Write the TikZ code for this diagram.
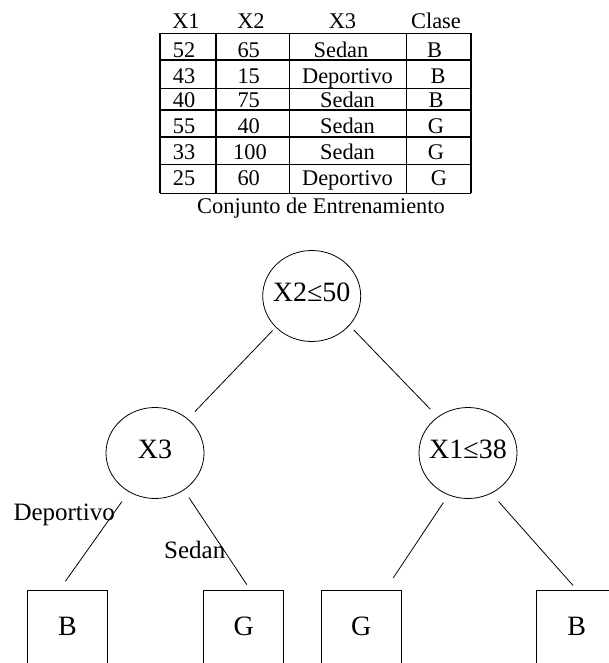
\documentclass[tikz,border=0pt]{standalone}
\usepackage{fontspec}
\setmainfont{Liberation Serif}
\usetikzlibrary{shapes.geometric}

\begin{document}
\begin{tikzpicture}[x=1pt, y=-1pt,
  tabtext/.style={font=\fontsize{22.4}{26}\selectfont, anchor=base, inner sep=0pt},
  rule/.style={line width=1.1pt},
  split/.style={ellipse, draw, line width=0.8pt, minimum width=98pt,
    minimum height=91pt, inner sep=0pt, inner xsep=-8pt,
    font=\fontsize{28}{32}\selectfont, text height=18.5pt, text depth=8pt},
  leaf/.style={draw, line width=0.8pt, minimum width=80pt, minimum height=90pt,
    inner sep=0pt, font=\fontsize{28}{32}\selectfont,
    text height=18.5pt, text depth=18.5pt},
  link/.style={line width=0.8pt},
  branch/.style={font=\fontsize{25}{30}\selectfont, anchor=base west, inner sep=0pt}
]
\useasboundingbox (0,0) rectangle (609,663);
\clip (0,0) rectangle (609,663);

% training table: ruled grid
\foreach \y in {33.3, 60, 88.3, 110, 137, 164.3, 193.3}
  \draw[rule] (160,\y) -- (471,\y);
\foreach \x in {160, 216, 289.3, 406.7, 471}
  \draw[rule] (\x,33.3) -- (\x,193.3);

% header
\node[tabtext] (h1) at (186,28.3) {X1};
\node[tabtext] (h2) at (251,28.3) {X2};
\node[tabtext] (h3) at (342.5,28.3) {X3};
\node[tabtext] (h4) at (436,28.3) {Clase};

% rows
\node[tabtext] (r1a) at (184,57.3) {52};
\node[tabtext] (r1b) at (248.7,57.3) {65};
\node[tabtext] (r1c) at (341,57.3) {Sedan};
\node[tabtext] (r1d) at (434.7,57.3) {B};

\node[tabtext] (r2a) at (184,84) {43};
\node[tabtext] (r2b) at (248.7,84) {15};
\node[tabtext] (r2c) at (347.5,84) {Deportivo};
\node[tabtext] (r2d) at (438,84) {B};

\node[tabtext] (r3a) at (184,107.3) {40};
\node[tabtext] (r3b) at (248.7,107.3) {75};
\node[tabtext] (r3c) at (347.5,107.3) {Sedan};
\node[tabtext] (r3d) at (436,107.3) {B};

\node[tabtext] (r4a) at (184,133.3) {55};
\node[tabtext] (r4b) at (248.7,133.3) {40};
\node[tabtext] (r4c) at (347.5,133.3) {Sedan};
\node[tabtext] (r4d) at (436,133.3) {G};

\node[tabtext] (r5a) at (184,159.3) {33};
\node[tabtext] (r5b) at (250,159.3) {100};
\node[tabtext] (r5c) at (347.5,159.3) {Sedan};
\node[tabtext] (r5d) at (436,159.3) {G};

\node[tabtext] (r6a) at (184,185) {25};
\node[tabtext] (r6b) at (248.7,185) {60};
\node[tabtext] (r6c) at (347.5,185) {Deportivo};
\node[tabtext] (r6d) at (439,185) {G};

\node[tabtext] (caption) at (321,213.3) {Conjunto de Entrenamiento};

% decision tree
\node[split] (root) at (311.7,296) {X2≤50};
\node[split] (x3)   at (155,453)   {X3};
\node[split] (x1)   at (468,453)   {X1≤38};

\node[leaf] (b1) at (67.5,635)  {B};
\node[leaf] (g1) at (243.7,635) {G};
\node[leaf] (g2) at (361.3,635) {G};
\node[leaf] (b2) at (576.7,635) {B};

\draw[link, shorten <=4.3pt, shorten >=10pt]   (root.221) -- (x3.46);
\draw[link, shorten <=6.3pt, shorten >=10.5pt] (root.322) -- (x1.130);
\draw[link, shorten <=11.9pt, shorten >=10.2pt] (x3.236) -- (b1.100);
\draw[link, shorten <=8.8pt, shorten >=6pt]    (x3.308) -- (g1.82);
\draw[link, shorten <=9pt, shorten >=14.1pt]   (x1.245) -- (g2.62);
\draw[link, shorten <=10.8pt, shorten >=5.4pt] (x1.300) -- (b2.north);

\node[branch] (dep) at (13.3,520.7) {Deportivo};
\node[branch] (sed) at (164,558.3)  {Sedan};
\end{tikzpicture}
\end{document}
